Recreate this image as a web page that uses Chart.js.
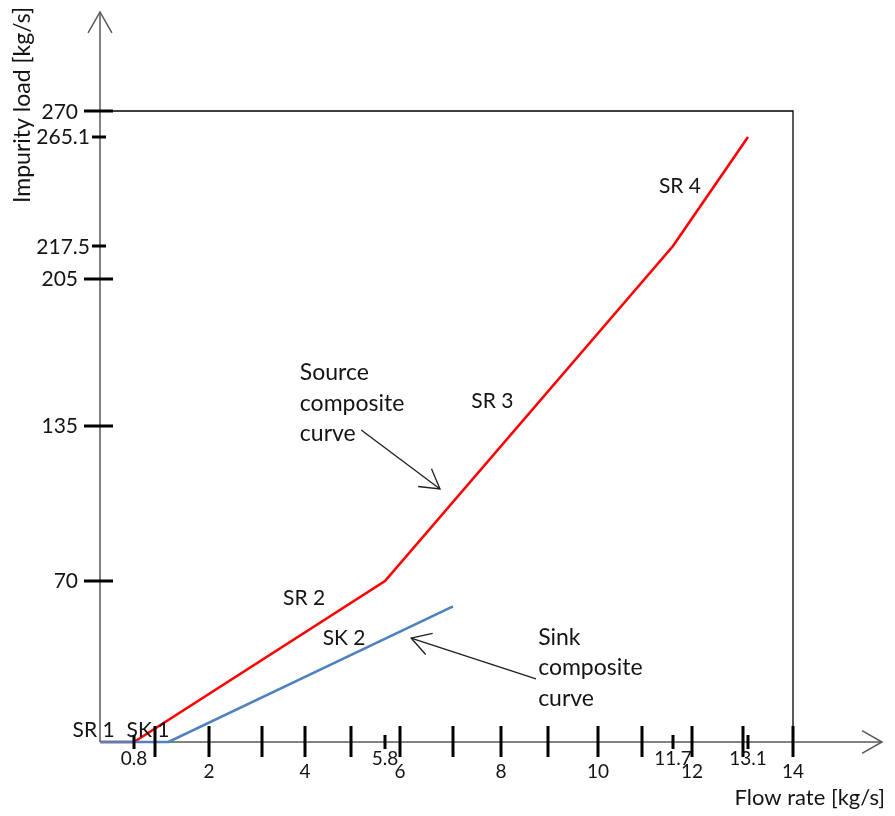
<!DOCTYPE html>
<html><head><meta charset="utf-8">
<script src="https://cdn.jsdelivr.net/npm/chart.js@4.4.1/dist/chart.umd.min.js"></script>
<style>html,body{margin:0;padding:0;background:#fff;}canvas{display:block;}</style>
</head><body>
<canvas id="c" width="895" height="816"></canvas>
<script>
// ---------------- data ----------------
const sourceFlow = [0, 0.8, 5.8, 11.7, 13.1];
const sourceLoad = [0, 0, 70, 217.5, 265.1];
const sinkFlow = [0, 1.25, 7];
const sinkLoad = [0, 0, 59];
const xTickValues = [0.8, 1, 2, 3, 4, 5, 5.8, 6, 7, 8, 9, 10, 11, 11.7, 12, 13, 13.1, 14];
const xTickLabels = ['0.8', '', '2', '', '4', '', '5.8', '6', '', '8', '', '10', '', '11.7', '12', '', '13.1', '14'];
const xShortTicks = [0.8, 5.8, 11.7, 13.1];
const yTickValues = [70, 135, 205, 217.5, 265.1, 270];
const yTickLabels = ['70', '135', '205', '217.5', '265.1', '270'];
const yShortTicks = [217.5, 265.1];
const boxFlow = 14;
const boxLoad = 270;
const xTitle = 'Flow rate [kg/s]';
const yTitle = 'Impurity load [kg/s]';

// ---------------- annotations (data space anchors) ----------------
const segmentNotes = [
  { text: 'SR 1', x: -0.15, y: 2.2 },
  { text: 'SK 1', x: 0.933, y: 2.2 },
  { text: 'SR 2', x: 3.98, y: 59.6 },
  { text: 'SK 2', x: 4.85, y: 42.2 },
  { text: 'SR 3', x: 7.82, y: 143.6 },
  { text: 'SR 4', x: 11.81, y: 240.6 }
];
const blockNotes = [
  { lines: ['Source', 'composite', 'curve'], x: 3.88, y: 156.9 },
  { lines: ['Sink', 'composite', 'curve'], x: 8.79, y: 42.2 }
];
const arrowNotes = [
  { from: [5.24, 133.3], to: [6.755, 108.6] },
  { from: [8.745, 27.4], to: [6.21, 45.2] }
];

// ---------------- hand-drawn (piecewise) scale ----------------
class KnotScale extends Chart.LinearScale {
  static id = 'knot';
  static defaults = {};
  _dec(v) {
    const k = this.options.knots;
    let i = 1;
    while (i < k.length - 1 && v > k[i][0]) i++;
    const a = k[i - 1], b = k[i];
    return a[1] + (v - a[0]) * (b[1] - a[1]) / (b[0] - a[0]);
  }
  getPixelForValue(v) {
    if (v === null || v === undefined || isNaN(v)) return NaN;
    return this.getPixelForDecimal(this._dec(+v));
  }
  getValueForPixel(p) {
    const d = this.getDecimalForPixel(p);
    const k = this.options.knots;
    let i = 1;
    while (i < k.length - 1 && d > k[i][1]) i++;
    const a = k[i - 1], b = k[i];
    return a[0] + (d - a[1]) * (b[0] - a[0]) / (b[1] - a[1]);
  }
}
Chart.register(KnotScale);

const FONT = 'Lato, "Noto Sans", sans-serif';
const TEXT = '#141414';

function arrowHead(ctx, tx, ty, fx, fy, len, ang) {
  const th = Math.atan2(ty - fy, tx - fx);
  ctx.beginPath();
  ctx.moveTo(tx - len * Math.cos(th - ang), ty - len * Math.sin(th - ang));
  ctx.lineTo(tx, ty);
  ctx.lineTo(tx - len * Math.cos(th + ang), ty - len * Math.sin(th + ang));
  ctx.stroke();
}

const sketchPlugin = {
  id: 'sketch',
  beforeDatasetsDraw(chart) {
    const { ctx, chartArea: a, scales: { x, y } } = chart;
    const x0 = x.getPixelForValue(0), y0 = y.getPixelForValue(0);
    ctx.save();
    ctx.strokeStyle = '#000';
    ctx.lineWidth = 1.3;
    ctx.beginPath();
    ctx.moveTo(x0, y.getPixelForValue(boxLoad));
    ctx.lineTo(x.getPixelForValue(boxFlow), y.getPixelForValue(boxLoad));
    ctx.lineTo(x.getPixelForValue(boxFlow), y0);
    ctx.stroke();
    ctx.strokeStyle = '#595959';
    ctx.lineWidth = 1.5;
    ctx.beginPath();
    ctx.moveTo(x0, y0); ctx.lineTo(a.right, y0);
    ctx.moveTo(x0, y0); ctx.lineTo(x0, a.top);
    ctx.stroke();
    arrowHead(ctx, a.right, y0, x0, y0, 23, 0.52);
    arrowHead(ctx, x0, a.top, x0, y0, 24, 0.52);
    ctx.restore();
  },
  afterDatasetsDraw(chart) {
    const { ctx, chartArea: a, scales: { x, y } } = chart;
    const x0 = x.getPixelForValue(0), y0 = y.getPixelForValue(0);
    ctx.save();
    ctx.strokeStyle = '#000';
    ctx.lineWidth = 3;
    ctx.beginPath();
    xTickValues.forEach(v => {
      const px = x.getPixelForValue(v);
      const s = xShortTicks.includes(v);
      ctx.moveTo(px, y0 - (s ? 7 : 16));
      ctx.lineTo(px, y0 + (s ? 7 : 15));
    });
    yTickValues.forEach(v => {
      const py = y.getPixelForValue(v);
      const s = yShortTicks.includes(v);
      ctx.moveTo(x0 - (s ? 8 : 16), py);
      ctx.lineTo(x0 + (s ? 6 : 13), py);
    });
    ctx.stroke();
    ctx.fillStyle = TEXT;
    ctx.textBaseline = 'alphabetic';
    ctx.font = '19px ' + FONT;
    ctx.textAlign = 'center';
    xTickValues.forEach((v, i) => {
      if (!xTickLabels[i]) return;
      const s = xShortTicks.includes(v);
      ctx.fillText(xTickLabels[i], x.getPixelForValue(v), y0 + (s ? 23 : 36));
    });
    ctx.font = '21px ' + FONT;
    ctx.textAlign = 'right';
    yTickValues.forEach((v, i) => {
      const s = yShortTicks.includes(v);
      ctx.fillText(yTickLabels[i], x0 - (s ? 10 : 22), y.getPixelForValue(v) + 7.5);
    });
    ctx.font = '21px ' + FONT;
    ctx.textAlign = 'center';
    segmentNotes.forEach(n => ctx.fillText(n.text, x.getPixelForValue(n.x), y.getPixelForValue(n.y)));
    ctx.font = '23px ' + FONT;
    ctx.textAlign = 'left';
    blockNotes.forEach(b => {
      const px = x.getPixelForValue(b.x), py = y.getPixelForValue(b.y);
      b.lines.forEach((t, i) => ctx.fillText(t, px, py + i * 30.5));
    });
    ctx.strokeStyle = '#1e1e1e';
    ctx.lineWidth = 1.3;
    arrowNotes.forEach(n => {
      const fx = x.getPixelForValue(n.from[0]), fy = y.getPixelForValue(n.from[1]);
      const tx = x.getPixelForValue(n.to[0]), ty = y.getPixelForValue(n.to[1]);
      ctx.beginPath(); ctx.moveTo(fx, fy); ctx.lineTo(tx, ty); ctx.stroke();
      arrowHead(ctx, tx, ty, fx, fy, 22, 0.53);
    });
    ctx.font = '22px ' + FONT;
    ctx.textAlign = 'right';
    ctx.fillText(xTitle, a.right + 3, y0 + 63);
    ctx.save();
    ctx.translate(30, a.top + 93);
    ctx.rotate(-Math.PI / 2);
    ctx.font = '23px ' + FONT;
    ctx.textAlign = 'center';
    ctx.fillText(yTitle, 0, 0);
    ctx.restore();
    ctx.restore();
  }
};

new Chart(document.getElementById('c'), {
  type: 'scatter',
  data: {
    datasets: [
      {
        label: 'Sink composite curve',
        data: sinkFlow.map((f, i) => ({ x: f, y: sinkLoad[i] })),
        showLine: true, borderColor: '#4F81BD', borderWidth: 2.6,
        pointRadius: 0, tension: 0, clip: false
      },
      {
        label: 'Source composite curve',
        data: sourceFlow.map((f, i) => ({ x: f, y: sourceLoad[i] })),
        showLine: true, borderColor: '#FF0000', borderWidth: 2.6,
        pointRadius: 0, tension: 0, clip: false
      }
    ]
  },
  options: {
    responsive: false,
    animation: false,
    layout: { padding: { left: 100, right: 13, top: 12, bottom: 74 } },
    plugins: { legend: { display: false }, tooltip: { enabled: false }, title: { display: false } },
    scales: {
      x: {
        type: 'knot', display: false, min: 0, max: 15.75,
        knots: [[0, 0], [0.8, 0.04348], [1, 0.07033], [2, 0.13939], [3, 0.20716], [4, 0.26215],
                [5, 0.32097], [5.8, 0.36445], [6, 0.38363], [7, 0.45141], [8, 0.51279], [9, 0.57289],
                [10, 0.63683], [11, 0.69309], [11.7, 0.73274], [12, 0.75703], [13, 0.82225],
                [13.1, 0.82864], [14, 0.88619], [15.75, 1]]
      },
      y: {
        type: 'knot', display: false, min: 0, max: 300,
        knots: [[0, 0], [70, 0.22055], [135, 0.43288], [205, 0.63425], [217.5, 0.67945],
                [265.1, 0.82877], [270, 0.86438], [300, 1]]
      }
    }
  },
  plugins: [sketchPlugin]
});
</script>
</body></html>
